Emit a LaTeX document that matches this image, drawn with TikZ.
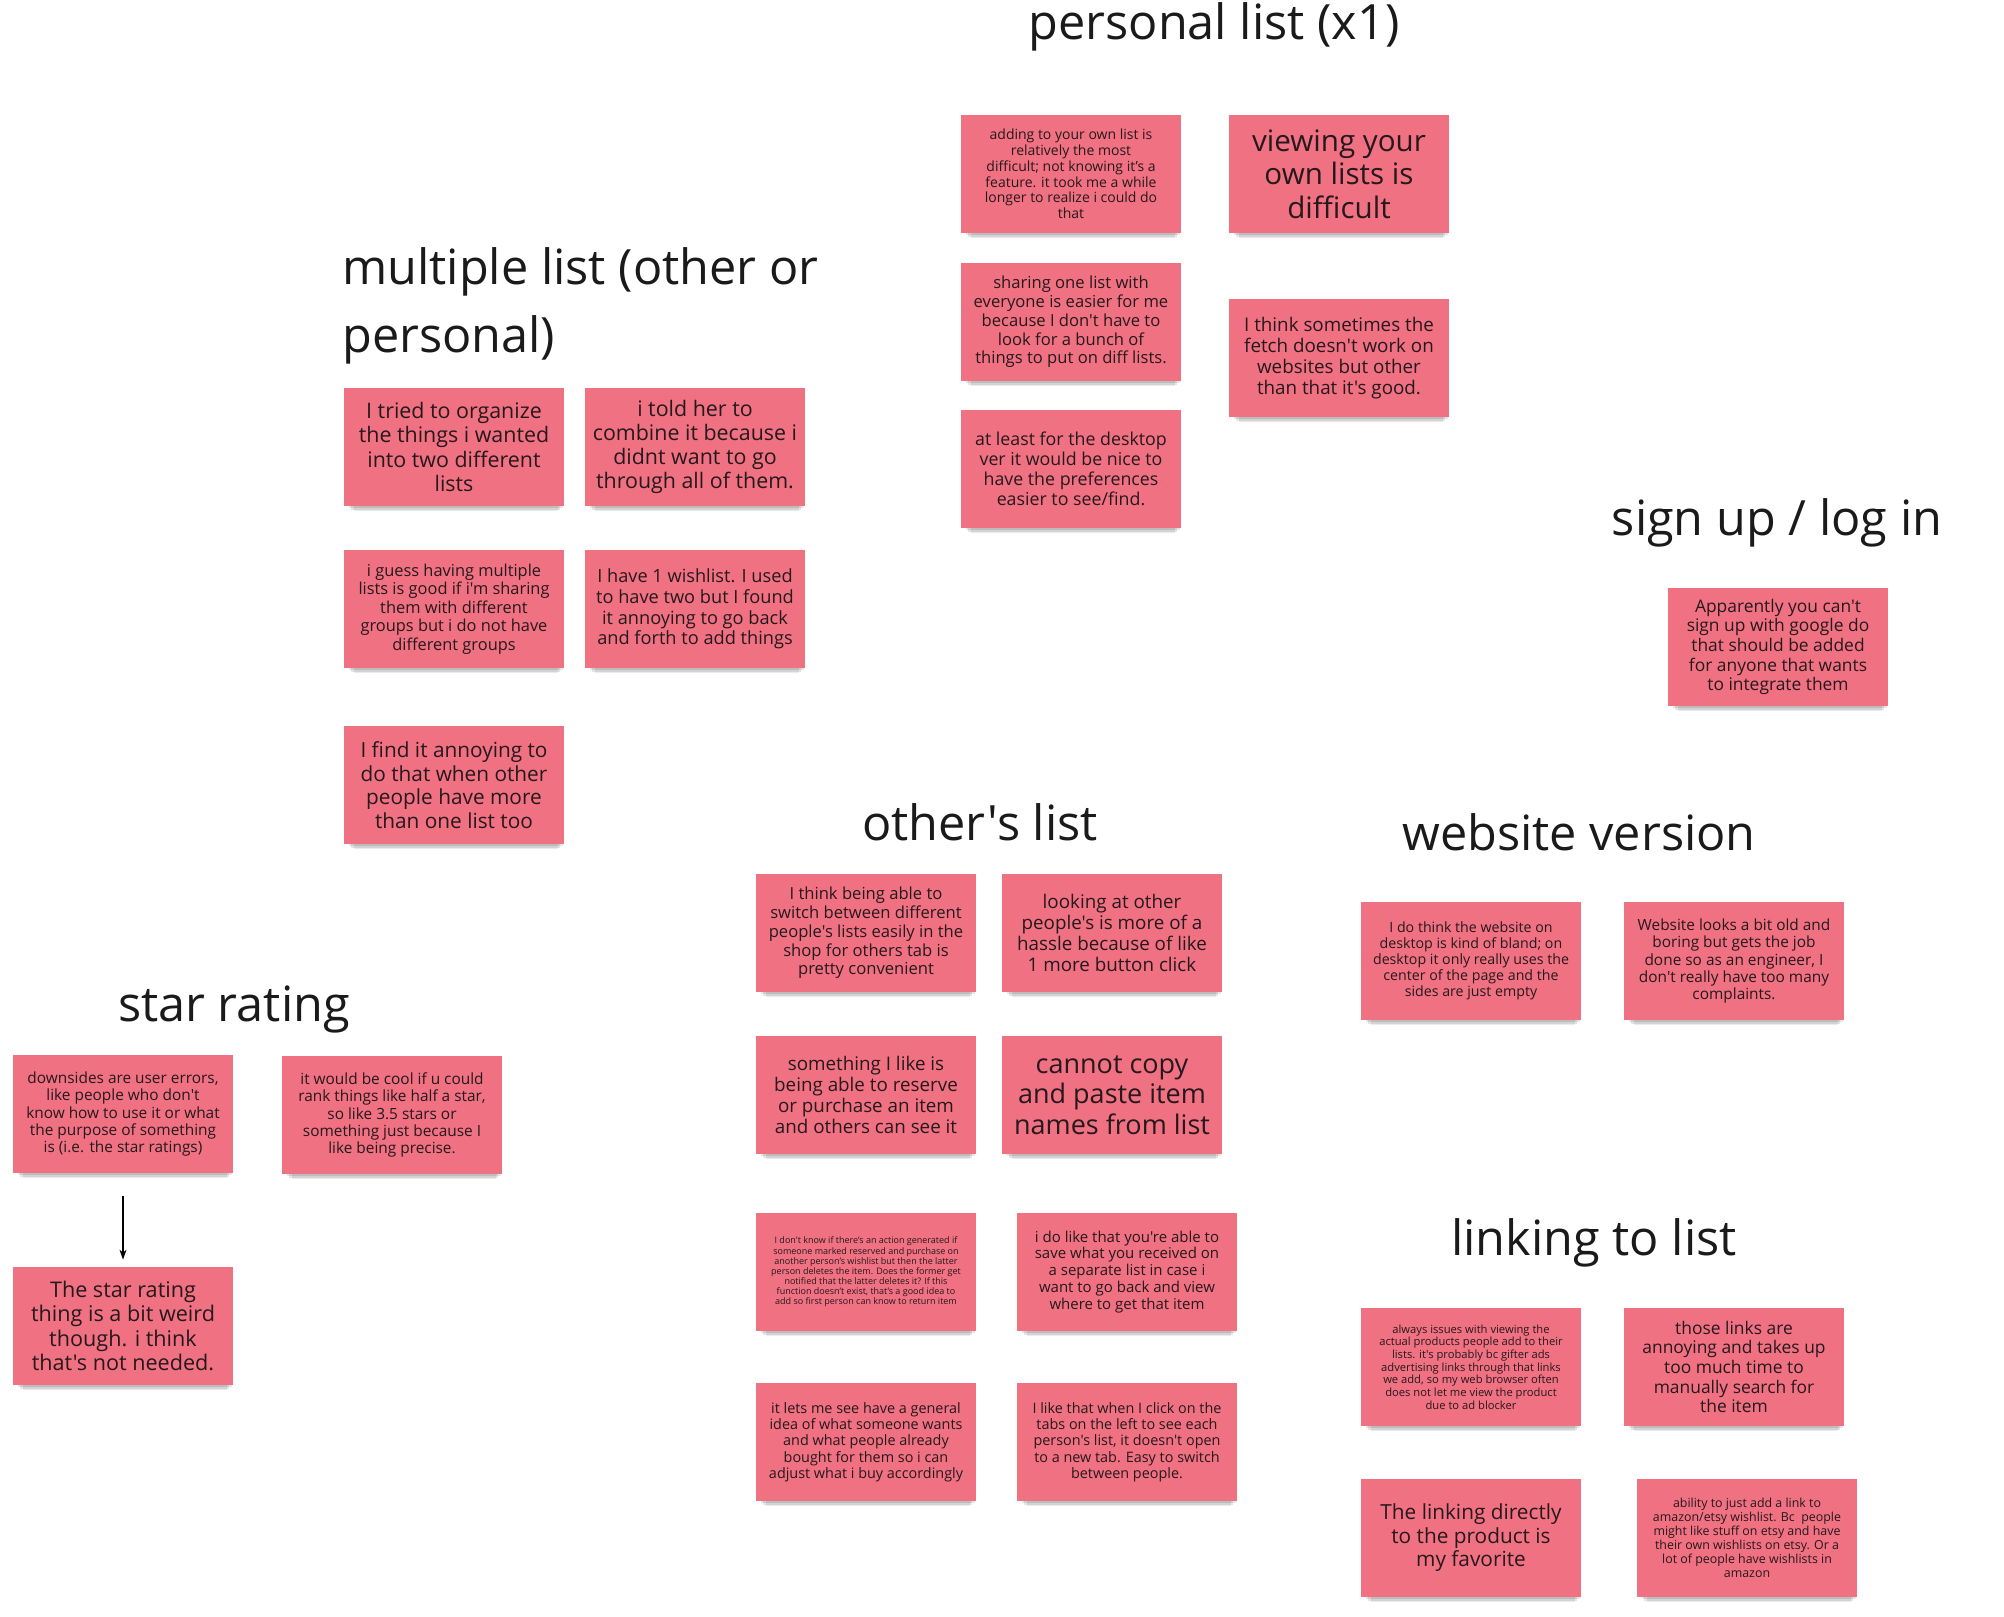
\documentclass[tikz,border=0pt]{standalone}
\usepackage{fontspec}
\setmainfont{Open Sans}[Ligatures=TeXOff]
\usetikzlibrary{shadows,arrows.meta}

\definecolor{stickypink}{RGB}{240,113,130}
\definecolor{inktext}{RGB}{38,24,28}
\definecolor{headtext}{RGB}{26,26,26}

\newcommand{\fsz}[1]{\pgfmathsetmacro{\fszskip}{1.13*#1}\fontsize{#1}{\fszskip}\selectfont}

\tikzset{
  note/.style={rectangle, fill=stickypink, text=inktext, align=center,
    minimum width=110pt, minimum height=59pt, inner sep=1pt,
    general shadow={shadow xshift=1pt, shadow yshift=-2pt, shadow scale=0.97, opacity=0.10, fill=black},
    general shadow={shadow xshift=1pt, shadow yshift=-3.5pt, shadow scale=0.95, opacity=0.10, fill=black},
    general shadow={shadow xshift=1pt, shadow yshift=-5pt, shadow scale=0.93, opacity=0.08, fill=black}},
  heading/.style={text=headtext, font=\fontsize{24.3}{34}\selectfont, inner sep=0pt},
  link/.style={-{Stealth[length=5pt,width=3.5pt]}, line width=0.6pt, black}
}

\begin{document}
\begin{tikzpicture}[x=0.5pt,y=-0.5pt]
\fill[white] (0,0) rectangle (2004,1617);
\useasboundingbox (0,0) rectangle (2004,1617);

% headings
\node[heading] (hpersonal) at (1214,27) {personal list (x1)};
\node[heading, anchor=west, align=left] (hmultiple) at (342,306) {multiple list (other or\\personal)};
\node[heading] (hsignup) at (1777,523) {sign up / log in};
\node[heading] (hothers) at (980,822) {other's list};
\node[heading] (hwebsite) at (1579,832) {website version};
\node[heading] (hstar) at (234,1009) {star rating};
\node[heading] (hlinking) at (1594,1243) {linking to list};

% personal list
\node[note, font=\fsz{7}] (p1) at (1071,174) {adding to your own list is\\relatively the most\\difficult; not knowing it’s a\\feature. it took me a while\\longer to realize i could do\\that};
\node[note, font=\fsz{14.8}] (p2) at (1339,174) {viewing your\\own lists is\\difficult};
\node[note, font=\fsz{8.3}] (p3) at (1071,322) {sharing one list with\\everyone is easier for me\\because I don't have to\\look for a bunch of\\things to put on diff lists.};
\node[note, font=\fsz{9.4}] (p4) at (1339,358) {I think sometimes the\\fetch doesn't work on\\websites but other\\than that it's good.};
\node[note, font=\fsz{8.9}] (p5) at (1071,469) {at least for the desktop\\ver it would be nice to\\have the preferences\\easier to see/find.};

% multiple list
\node[note, font=\fsz{10.7}] (m1) at (454,447) {I tried to organize\\the things i wanted\\into two different\\lists};
\node[note, font=\fsz{10.7}] (m2) at (695,447) {i told her to\\combine it because i\\didnt want to go\\through all of them.};
\node[note, font=\fsz{8.2}] (m3) at (454,609) {i guess having multiple\\lists is good if i'm sharing\\them with different\\groups but i do not have\\different groups};
\node[note, font=\fsz{9.1}] (m4) at (695,609) {I have 1 wishlist. I used\\to have two but I found\\it annoying to go back\\and forth to add things};
\node[note, font=\fsz{10.4}] (m5) at (454,785) {I find it annoying to\\do that when other\\people have more\\than one list too};

% sign up
\node[note, font=\fsz{8.7}] (s1) at (1778,647) {Apparently you can't\\sign up with google do\\that should be added\\for anyone that wants\\to integrate them};

% other's list
\node[note, font=\fsz{8.3}] (o1) at (866,933) {I think being able to\\switch between different\\people's lists easily in the\\shop for others tab is\\pretty convenient};
\node[note, font=\fsz{9.4}] (o2) at (1112,933) {looking at other\\people's is more of a\\hassle because of like\\1 more button click};
\node[note, font=\fsz{9.4}] (o3) at (866,1095) {something I like is\\being able to reserve\\or purchase an item\\and others can see it};
\node[note, font=\fsz{13.5}] (o4) at (1112,1095) {cannot copy\\and paste item\\names from list};
\node[note, font=\fsz{4.5}] (o5) at (866,1272) {I don't know if there’s an action generated if\\someone marked reserved and purchase on\\another person’s wishlist but then the latter\\person deletes the item. Does the former get\\notified that the latter deletes it? If this\\function doesn’t exist, that’s a good idea to\\add so first person can know to return item};
\node[note, font=\fsz{7.5}] (o6) at (1127,1272) {i do like that you're able to\\save what you received on\\a separate list in case i\\want to go back and view\\where to get that item};
\node[note, font=\fsz{7.2}] (o7) at (866,1442) {it lets me see have a general\\idea of what someone wants\\and what people already\\bought for them so i can\\adjust what i buy accordingly};
\node[note, font=\fsz{7.2}] (o8) at (1127,1442) {I like that when I click on the\\tabs on the left to see each\\person's list, it doesn't open\\to a new tab. Easy to switch\\between people.};

% website version
\node[note, font=\fsz{7.1}] (w1) at (1471,961) {I do think the website on\\desktop is kind of bland; on\\desktop it only really uses the\\center of the page and the\\sides are just empty};
\node[note, font=\fsz{7.7}] (w2) at (1734,961) {Website looks a bit old and\\boring but gets the job\\done so as an engineer, I\\don't really have too many\\complaints.};

% linking to list
\node[note, font=\fsz{5.6}] (l1) at (1471,1367) {always issues with viewing the\\actual products people add to their\\lists. it's probably bc gifter ads\\advertising links through that links\\we add, so my web browser often\\does not let me view the product\\due to ad blocker};
\node[note, font=\fsz{8.7}] (l2) at (1734,1367) {those links are\\annoying and takes up\\too much time to\\manually search for\\the item};
\node[note, font=\fsz{10.4}] (l3) at (1471,1538) {The linking directly\\to the product is\\my favorite};
\node[note, font=\fsz{6.2}] (l4) at (1747,1538) {ability to just add a link to\\amazon/etsy wishlist. Bc\ \ people\\might like stuff on etsy and have\\their own wishlists on etsy. Or a\\lot of people have wishlists in\\amazon};

% star rating
\node[note, font=\fsz{7.7}] (r1) at (123,1114) {downsides are user errors,\\like people who don't\\know how to use it or what\\the purpose of something\\is (i.e. the star ratings)};
\node[note, font=\fsz{7.7}] (r2) at (392,1115) {it would be cool if u could\\rank things like half a star,\\so like 3.5 stars or\\something just because I\\like being precise.};
\node[note, font=\fsz{10.8}] (r3) at (123,1326) {The star rating\\thing is a bit weird\\though. i think\\that's not needed.};
\draw[link, shorten <=11.5pt, shorten >=3.5pt] (r1) -- (r3);
\end{tikzpicture}
\end{document}
